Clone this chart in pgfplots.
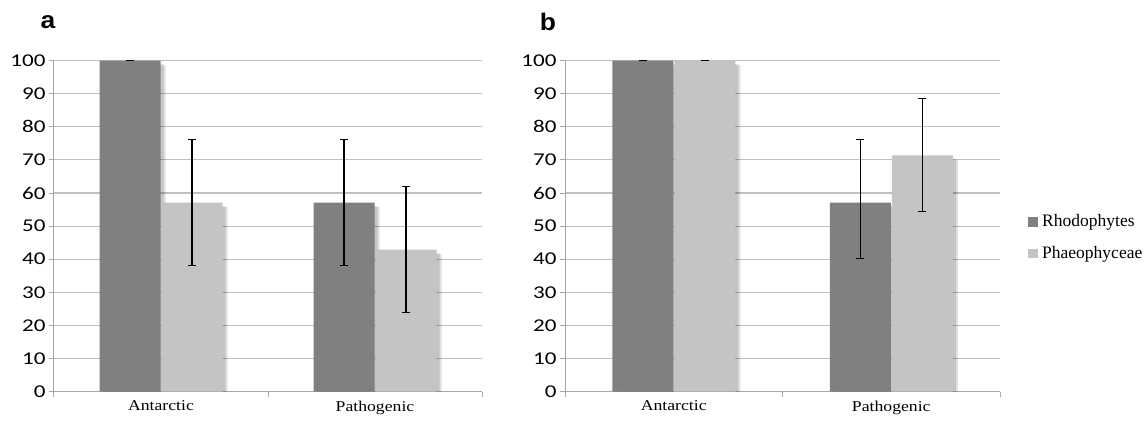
\documentclass[border=0pt]{standalone}
\usepackage{fontspec}
\setmainfont[FakeStretch=1.18]{Liberation Serif}
\newfontfamily\legendfont{Liberation Serif}
\newfontfamily\tickfont[FakeStretch=1.28]{Carlito}
\newfontfamily\panelfont[FakeStretch=1.1]{Liberation Sans}
\usepackage{pgfplots}
\pgfplotsset{compat=1.18}
\definecolor{darkbar}{HTML}{808080}
\definecolor{lightbar}{HTML}{C4C4C4}
\definecolor{gridc}{HTML}{BFBFBF}
\definecolor{axc}{HTML}{A6A6A6}
\pgfplotsset{
  panel/.style={
    scale only axis, height=330.8pt, anchor=south west,
    ymin=0, ymax=100, xmin=-0.5, xmax=1.5,
    axis x line*=bottom, axis y line*=left,
    axis line style={axc, line width=1pt},
    ytick={0,10,...,100},
    ymajorgrids, grid style={gridc, line width=1.1pt},
    xtick={-0.5,0.5,1.5}, xticklabels={},
    extra x ticks={0,1}, extra x tick labels={Antarctic,Pathogenic},
    extra x tick style={major tick length=0pt, xticklabel style={yshift=-6pt}},
    tick align=outside, major tick length=5pt,
    tick style={axc, line width=1pt},
    /pgf/number format/assume math mode=true,
    yticklabel style={font=\tickfont\fontsize{18}{21}\selectfont, xshift=0pt},
    xticklabel style={font=\fontsize{15}{18}\selectfont},
    clip=false,
  },
  shad/.style={ybar, bar width=61pt, draw=none, fill=black, opacity=0.12, forget plot},
  mainbar/.style={ybar, bar width=61pt, draw=none},
  ebar/.style={forget plot, draw=none, mark=none,
    error bars/y dir=both, error bars/y explicit,
    error bars/error bar style={draw=black, line width=1.2pt},
    error bars/error mark options={draw=black, rotate=90, mark size=4pt, line width=1.2pt}},
}
\begin{document}
\begin{tikzpicture}
\useasboundingbox (0pt,0pt) rectangle (1148pt,423pt);
% panel a
\begin{axis}[panel, at={(54pt,31.5pt)}, width=428pt]
\addplot[shad, bar shift=-28pt] coordinates {(0,99) (1,56.1)};
\addplot[shad, bar shift=-26pt] coordinates {(0,98.6) (1,55.7)};
\addplot[shad, bar shift=34pt] coordinates {(0,56.1) (1,41.9)};
\addplot[shad, bar shift=36pt] coordinates {(0,55.7) (1,41.5)};
\addplot[mainbar, bar shift=-31pt, fill=darkbar] coordinates {(0,100) (1,57.1)};
\addplot[mainbar, bar shift=31pt, fill=lightbar] coordinates {(0,57.1) (1,42.9)};
\addplot[ebar] coordinates {(-0.1449,100) +- (0,0) (0.8551,57.1) +- (0,19.1)};
\addplot[ebar] coordinates {(0.1449,57.1) +- (0,19.1) (1.1449,42.9) +- (0,19.1)};
\end{axis}
% panel b
\begin{axis}[panel, at={(565pt,31.5pt)}, width=435pt]
\addplot[shad, bar shift=-28pt] coordinates {(0,99) (1,56.1)};
\addplot[shad, bar shift=-26pt] coordinates {(0,98.6) (1,55.7)};
\addplot[shad, bar shift=34pt] coordinates {(0,99) (1,70.4)};
\addplot[shad, bar shift=36pt] coordinates {(0,98.6) (1,70.0)};
\addplot[mainbar, bar shift=-31pt, fill=darkbar] coordinates {(0,100) (1,57.1)};
\addplot[mainbar, bar shift=31pt, fill=lightbar] coordinates {(0,100) (1,71.4)};
\addplot[ebar] coordinates {(-0.1425,100) +- (0,0) (0.8575,57.1) += (0,19.1) -= (0,17.0)};
\addplot[ebar] coordinates {(0.1425,100) +- (0,0) (1.1425,71.4) +- (0,17.1)};
\end{axis}
% legend
\fill[darkbar] (1028pt,196pt) rectangle (1038pt,205.5pt);
\node[anchor=base west, inner sep=0pt, font=\legendfont\fontsize{17.5}{20}\selectfont] at (1042pt,196.3pt) {Rhodophytes};
\fill[lightbar] (1028pt,165pt) rectangle (1038pt,174pt);
\node[anchor=base west, inner sep=0pt, font=\legendfont\fontsize{17.5}{20}\selectfont] at (1042pt,164.7pt) {Phaeophyceae};
% panel labels
\node[font=\panelfont\bfseries\fontsize{24}{28}\selectfont] at (48pt,401pt) {a};
\node[font=\panelfont\bfseries\fontsize{24}{28}\selectfont] at (548pt,401pt) {b};
\end{tikzpicture}
\end{document}
